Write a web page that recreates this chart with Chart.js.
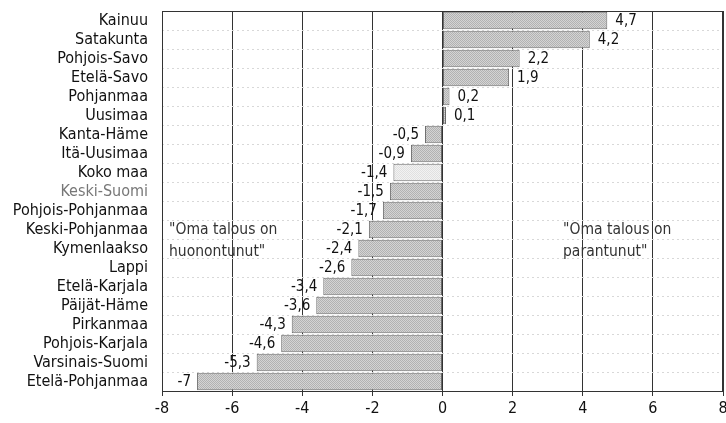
<!DOCTYPE html>
<html>
<head>
<meta charset="utf-8">
<script src="https://cdn.jsdelivr.net/npm/chart.js@4/dist/chart.umd.min.js"></script>
<style>
  html, body { margin: 0; padding: 0; background: #fff; }
  #wrap { width: 726px; height: 423px; }
</style>
</head>
<body>
<div id="wrap"><canvas id="chart"></canvas></div>
<script>
const regions = [
  "Kainuu", "Satakunta", "Pohjois-Savo", "Etelä-Savo", "Pohjanmaa", "Uusimaa",
  "Kanta-Häme", "Itä-Uusimaa", "Koko maa", "Keski-Suomi", "Pohjois-Pohjanmaa",
  "Keski-Pohjanmaa", "Kymenlaakso", "Lappi", "Etelä-Karjala", "Päijät-Häme",
  "Pirkanmaa", "Pohjois-Karjala", "Varsinais-Suomi", "Etelä-Pohjanmaa"
];
const change = [4.7, 4.2, 2.2, 1.9, 0.2, 0.1, -0.5, -0.9, -1.4, -1.5, -1.7,
  -2.1, -2.4, -2.6, -3.4, -3.6, -4.3, -4.6, -5.3, -7];
const xTicks = [-8, -6, -4, -2, 0, 2, 4, 6, 8];
const notes = {
  left: ['"Oma talous on', 'huonontunut"'],
  right: ['"Oma talous on', 'parantunut"']
};

const FONT = '"Liberation Sans Narrow", "DejaVu Sans Condensed", "Liberation Sans", sans-serif';

// dotted grey fill like the printed raster
function dots(light, dark) {
  const c = document.createElement('canvas');
  c.width = 2; c.height = 2;
  const g = c.getContext('2d');
  g.fillStyle = light; g.fillRect(0, 0, 2, 2);
  g.fillStyle = dark; g.fillRect(0, 0, 1, 1); g.fillRect(1, 1, 1, 1);
  return g.createPattern(c, 'repeat');
}
const barFill = dots('#d4d4d4', '#b2b2b2');
const wholeFill = dots('#f2f2f2', '#e0e0e0');

const fmt = v => String(v).replace('.', ',');

// value labels, frame and the two notes
const extras = {
  id: 'extras',
  afterDatasetsDraw(chart) {
    const ctx = chart.ctx;
    const area = chart.chartArea;
    const meta = chart.getDatasetMeta(0);
    ctx.save();
    ctx.font = '15px ' + FONT;
    ctx.fillStyle = '#111';
    ctx.textBaseline = 'middle';
    meta.data.forEach((bar, i) => {
      const v = change[i];
      if (v >= 0) {
        ctx.textAlign = 'left';
        ctx.fillText(fmt(v), bar.x + 8, bar.y + 1);
      } else {
        ctx.textAlign = 'right';
        ctx.fillText(fmt(v), bar.x - 6, bar.y + 1);
      }
    });
    ctx.font = '15.5px ' + FONT;
    ctx.textAlign = 'left';
    ctx.fillStyle = '#333';
    notes.left.forEach((t, i) => ctx.fillText(t, 169, 230 + i * 22));
    notes.right.forEach((t, i) => ctx.fillText(t, 563, 230 + i * 22));

    ctx.strokeStyle = '#333';
    ctx.lineWidth = 1;
    ctx.strokeRect(Math.round(area.left) + 0.5, Math.round(area.top) + 0.5,
      Math.round(area.right - area.left) - 1, Math.round(area.bottom - area.top));
    ctx.restore();
  }
};

new Chart(document.getElementById('chart'), {
  type: 'bar',
  data: {
    labels: regions,
    datasets: [{
      data: change,
      backgroundColor: regions.map(r => r === 'Koko maa' ? wholeFill : barFill),
      borderColor: '#6a6a6a',
      borderWidth: 1,
      borderSkipped: false,
      categoryPercentage: 0.92,
      barPercentage: 1
    }]
  },
  options: {
    indexAxis: 'y',
    responsive: true,
    maintainAspectRatio: false,
    animation: false,
    layout: { padding: { top: 11, right: 3, left: 0, bottom: 0 } },
    plugins: { legend: { display: false }, tooltip: { enabled: false } },
    scales: {
      x: {
        min: -8, max: 8,
        afterBuildTicks: s => { s.ticks = xTicks.map(v => ({ value: v })); },
        afterFit: s => { s.height = 32; s.paddingRight = 0; s.paddingLeft = 0; },
        grid: { color: '#333', lineWidth: 1, drawTicks: true, tickLength: 5, tickColor: '#333' },
        border: { color: '#333' },
        ticks: { color: '#111', font: { family: FONT, size: 16 }, padding: 3 }
      },
      y: {
        afterFit: s => { s.width = 162; s.paddingTop = 0; s.paddingBottom = 0; },
        grid: {
          offset: true, drawTicks: false,
          color: '#d8d8d8', lineWidth: 1
        },
        border: { display: false, dash: [2, 3] },
        ticks: {
          color: c => regions[c.index] === 'Keski-Suomi' ? '#777' : '#111',
          font: { family: FONT, size: 16 },
          padding: 14,
          autoSkip: false
        }
      }
    }
  },
  plugins: [extras]
});
</script>
</body>
</html>
